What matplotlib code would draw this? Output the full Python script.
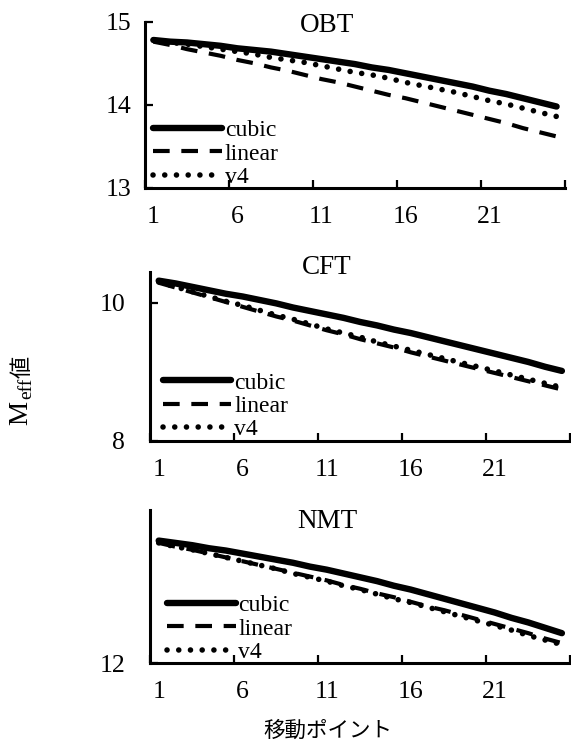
import matplotlib
matplotlib.use('Agg')
import matplotlib.pyplot as plt

plt.rcParams['font.family'] = ['Liberation Serif', 'Noto Sans CJK JP']

# data
points = list(range(1, 26))
label_points = [1, 6, 11, 16, 21]
series_names = ['cubic', 'linear', 'v4']

obt_cubic = [14.78, 14.76, 14.75, 14.73, 14.71, 14.68, 14.66, 14.64, 14.61, 14.58,
             14.55, 14.52, 14.49, 14.45, 14.42, 14.38, 14.34, 14.30, 14.26, 14.22,
             14.17, 14.13, 14.08, 14.03, 13.98]
obt_linear = [14.76, 14.72, 14.67, 14.63, 14.59, 14.54, 14.50, 14.45, 14.41, 14.36,
              14.31, 14.27, 14.22, 14.17, 14.12, 14.08, 14.03, 13.98, 13.93, 13.88,
              13.83, 13.78, 13.72, 13.67, 13.62]
obt_v4 = [14.78, 14.75, 14.73, 14.70, 14.67, 14.64, 14.61, 14.57, 14.54, 14.51,
          14.47, 14.43, 14.39, 14.36, 14.32, 14.27, 14.23, 14.19, 14.15, 14.10,
          14.05, 14.01, 13.96, 13.91, 13.86]

cft_cubic = [10.32, 10.28, 10.23, 10.18, 10.13, 10.09, 10.04, 9.99, 9.93, 9.88,
             9.83, 9.78, 9.72, 9.67, 9.61, 9.56, 9.50, 9.44, 9.38, 9.32,
             9.26, 9.20, 9.14, 9.07, 9.01]
cft_linear = [10.29, 10.22, 10.15, 10.08, 10.01, 9.94, 9.87, 9.80, 9.74, 9.67,
              9.60, 9.54, 9.47, 9.41, 9.35, 9.28, 9.22, 9.16, 9.10, 9.04,
              8.98, 8.92, 8.86, 8.80, 8.74]
cft_v4 = [10.30, 10.23, 10.16, 10.09, 10.02, 9.96, 9.89, 9.82, 9.76, 9.69,
          9.62, 9.56, 9.50, 9.43, 9.37, 9.31, 9.25, 9.19, 9.13, 9.07,
          9.01, 8.95, 8.89, 8.83, 8.77]

nmt_cubic = [13.60, 13.57, 13.54, 13.50, 13.47, 13.43, 13.39, 13.35, 13.31, 13.26,
             13.22, 13.17, 13.12, 13.07, 13.01, 12.96, 12.90, 12.84, 12.78, 12.72,
             12.66, 12.59, 12.53, 12.46, 12.39]
nmt_linear = [13.57, 13.52, 13.48, 13.43, 13.38, 13.33, 13.28, 13.23, 13.18, 13.13,
              13.08, 13.02, 12.97, 12.91, 12.86, 12.80, 12.74, 12.69, 12.63, 12.57,
              12.51, 12.45, 12.39, 12.32, 12.26]
nmt_v4 = [13.57, 13.52, 13.48, 13.43, 13.38, 13.33, 13.28, 13.23, 13.17, 13.12,
          13.07, 13.01, 12.96, 12.90, 12.84, 12.79, 12.73, 12.67, 12.61, 12.55,
          12.49, 12.43, 12.36, 12.30, 12.24]

panels = [
    ('OBT', [obt_cubic, obt_linear, obt_v4], (13, 15), [13, 14, 15]),
    ('CFT', [cft_cubic, cft_linear, cft_v4], (8, 10.45), [8, 10]),
    ('NMT', [nmt_cubic, nmt_linear, nmt_v4], (12, 14), [12]),
]

W, H = 571, 745
fig = plt.figure(figsize=(W / 100, H / 100), dpi=100)

# axes boxes in pixels: left, top, right, bottom
boxes = [(145, 21.7, 565, 188), (150.3, 271.7, 570.3, 440.5), (150.3, 510, 570.3, 663)]
ypads = [10, 18, 18]
title_y = [25, 268, 522]
legend_anchor = [(0.02, 0.0), (0.03, 0.0), (0.04, 0.0)]

styles = [
    dict(color='black', lw=4.6, ls='-', solid_capstyle='round'),
    dict(color='black', lw=3.0, ls=(0, (4.0, 2.8))),
    dict(color='black', lw=4.0, ls=(0, (0.01, 2.1)), dash_capstyle='round'),
]

for i, (name, series, ylim, yticks) in enumerate(panels):
    l, t, r, b = boxes[i]
    ax = fig.add_axes([l / W, 1 - b / H, (r - l) / W, (b - t) / H])
    for vals, lab, st in zip(series, series_names, styles):
        ax.plot(points, vals, label=lab, **st)
    ax.set_xlim(0.5, 25.5)
    ax.set_ylim(*ylim)
    ax.set_yticks(yticks)
    ax.xaxis.set_major_locator(plt.FixedLocator([0.5 + 5 * k for k in range(6)]))
    ax.xaxis.set_minor_locator(plt.FixedLocator(label_points))
    ax.xaxis.set_major_formatter(plt.NullFormatter())
    ax.xaxis.set_minor_formatter(plt.FixedFormatter([str(p) for p in label_points]))
    ax.tick_params(axis='x', which='major', direction='in', length=6, width=1.6)
    ax.tick_params(axis='x', which='minor', length=0, pad=13, labelsize=18.5)
    ax.tick_params(axis='y', direction='in', length=6, width=1.6, pad=ypads[i], labelsize=18.5)
    for s in ['top', 'right']:
        ax.spines[s].set_visible(False)
    for s in ['left', 'bottom']:
        ax.spines[s].set_linewidth(2.2)
    ax.legend(loc='lower left', bbox_to_anchor=legend_anchor[i], frameon=False,
              fontsize=17, handlelength=2.9, handletextpad=0.12, labelspacing=0.08,
              borderpad=0, borderaxespad=0)
    fig.text(327 / W, 1 - title_y[i] / H, name, ha='center', va='center', fontsize=19.5)

# y label: M, subscript eff, 値 (rotated)
fig.text(21 / W, 1 - 425 / H, 'M', rotation=90, ha='center', va='bottom', fontsize=19.5)
fig.text(27 / W, 1 - 399 / H, 'eff', rotation=90, ha='center', va='bottom', fontsize=14)
fig.text(22 / W, 1 - 378 / H, '値', rotation=90, ha='center', va='bottom', fontsize=16,
         family=['Noto Sans CJK JP'])

fig.text(328 / W, 1 - 731 / H, '移動ポイント', ha='center', va='center', fontsize=15.5,
         family=['Noto Sans CJK JP'])

fig.savefig('out.png', dpi=100)
